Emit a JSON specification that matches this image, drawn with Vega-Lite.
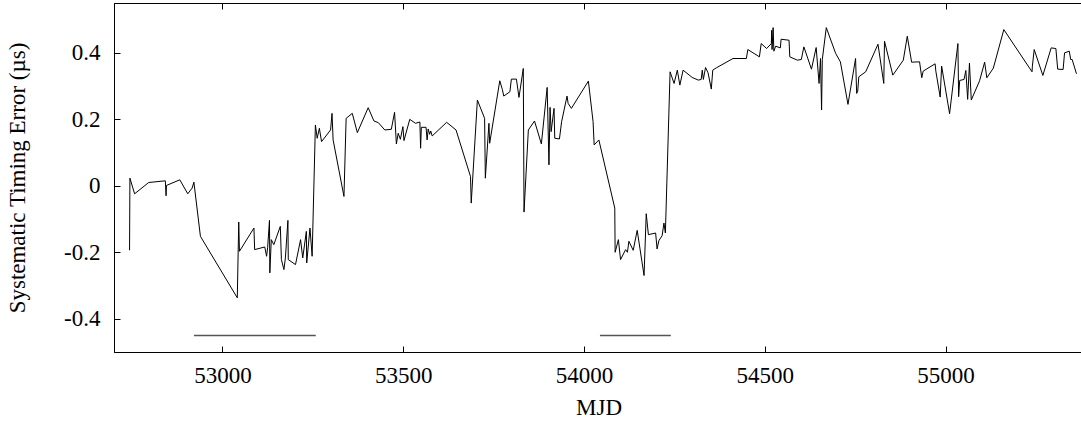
{
  "$schema": "https://vega.github.io/schema/vega-lite/v6.json",
  "autosize": "none",
  "width": 969,
  "height": 349,
  "padding": {"left": 114, "top": 3, "right": 0, "bottom": 71},
  "background": "white",
  "config": {
    "view": {"stroke": "black", "strokeWidth": 1},
    "axis": {
      "labelFont": "Liberation Serif", "labelFontSize": 23, "labelColor": "black",
      "titleFont": "Liberation Serif", "titleFontSize": 23, "titleFontWeight": "normal", "titleColor": "black",
      "tickColor": "black", "tickSize": -6, "tickWidth": 1, "domain": true, "domainColor": "black", "domainWidth": 1, "grid": false
    }
  },
  "resolve": {"axis": {"x": "independent"}},
  "datasets": {
    "timing": [
      {"mjd":52743,"err":-0.194},{"mjd":52744,"err":0.023},{"mjd":52757,"err":-0.024},{"mjd":52796,"err":0.010},
      {"mjd":52842,"err":0.015},{"mjd":52844,"err":-0.030},{"mjd":52845,"err":0.001},{"mjd":52882,"err":0.018},
      {"mjd":52904,"err":-0.024},{"mjd":52916,"err":-0.007},{"mjd":52921,"err":0.011},{"mjd":52939,"err":-0.152},
      {"mjd":53041,"err":-0.337},{"mjd":53045,"err":-0.109},{"mjd":53047,"err":-0.197},{"mjd":53087,"err":-0.127},
      {"mjd":53089,"err":-0.192},{"mjd":53117,"err":-0.184},{"mjd":53122,"err":-0.212},{"mjd":53125,"err":-0.185},
      {"mjd":53130,"err":-0.104},{"mjd":53131,"err":-0.262},{"mjd":53135,"err":-0.162},{"mjd":53142,"err":-0.177},
      {"mjd":53160,"err":-0.122},{"mjd":53163,"err":-0.222},{"mjd":53170,"err":-0.252},{"mjd":53174,"err":-0.217},
      {"mjd":53181,"err":-0.104},{"mjd":53182,"err":-0.222},{"mjd":53202,"err":-0.237},{"mjd":53216,"err":-0.162},
      {"mjd":53222,"err":-0.217},{"mjd":53232,"err":-0.137},{"mjd":53233,"err":-0.232},{"mjd":53242,"err":-0.127},
      {"mjd":53248,"err":-0.212},{"mjd":53257,"err":0.183},{"mjd":53262,"err":0.143},{"mjd":53268,"err":0.173},
      {"mjd":53274,"err":0.133},{"mjd":53299,"err":0.168},{"mjd":53303,"err":0.218},{"mjd":53306,"err":0.138},
      {"mjd":53336,"err":-0.032},{"mjd":53342,"err":0.203},{"mjd":53359,"err":0.218},{"mjd":53373,"err":0.160},
      {"mjd":53403,"err":0.235},{"mjd":53419,"err":0.195},{"mjd":53431,"err":0.190},{"mjd":53449,"err":0.168},
      {"mjd":53467,"err":0.170},{"mjd":53476,"err":0.221},{"mjd":53481,"err":0.126},{"mjd":53486,"err":0.158},
      {"mjd":53492,"err":0.140},{"mjd":53499,"err":0.178},{"mjd":53502,"err":0.136},{"mjd":53518,"err":0.200},
      {"mjd":53534,"err":0.188},{"mjd":53546,"err":0.192},{"mjd":53548,"err":0.113},{"mjd":53550,"err":0.176},
      {"mjd":53563,"err":0.176},{"mjd":53566,"err":0.138},{"mjd":53569,"err":0.171},{"mjd":53573,"err":0.155},
      {"mjd":53576,"err":0.165},{"mjd":53580,"err":0.150},{"mjd":53620,"err":0.191},{"mjd":53646,"err":0.168},
      {"mjd":53686,"err":0.028},{"mjd":53688,"err":-0.052},{"mjd":53705,"err":0.258},{"mjd":53725,"err":0.203},
      {"mjd":53727,"err":0.023},{"mjd":53737,"err":0.188},{"mjd":53739,"err":0.128},{"mjd":53767,"err":0.316},
      {"mjd":53774,"err":0.290},{"mjd":53778,"err":0.270},{"mjd":53795,"err":0.283},{"mjd":53799,"err":0.321},
      {"mjd":53813,"err":0.321},{"mjd":53820,"err":0.266},{"mjd":53832,"err":0.353},{"mjd":53834,"err":-0.079},
      {"mjd":53846,"err":0.168},{"mjd":53863,"err":0.195},{"mjd":53882,"err":0.126},{"mjd":53898,"err":0.296},
      {"mjd":53903,"err":0.063},{"mjd":53906,"err":0.236},{"mjd":53909,"err":0.163},{"mjd":53917,"err":0.233},
      {"mjd":53919,"err":0.143},{"mjd":53932,"err":0.141},{"mjd":53938,"err":0.193},{"mjd":53953,"err":0.270},
      {"mjd":53956,"err":0.248},{"mjd":53965,"err":0.233},{"mjd":54012,"err":0.315},{"mjd":54025,"err":0.193},
      {"mjd":54028,"err":0.123},{"mjd":54041,"err":0.138},{"mjd":54085,"err":-0.067},{"mjd":54086,"err":-0.200},
      {"mjd":54095,"err":-0.162},{"mjd":54101,"err":-0.222},{"mjd":54115,"err":-0.192},{"mjd":54120,"err":-0.200},
      {"mjd":54124,"err":-0.167},{"mjd":54136,"err":-0.194},{"mjd":54147,"err":-0.134},{"mjd":54166,"err":-0.270},
      {"mjd":54172,"err":-0.084},{"mjd":54178,"err":-0.147},{"mjd":54198,"err":-0.142},{"mjd":54202,"err":-0.190},
      {"mjd":54207,"err":-0.165},{"mjd":54216,"err":-0.150},{"mjd":54221,"err":-0.112},{"mjd":54225,"err":-0.142},
      {"mjd":54238,"err":0.343},{"mjd":54249,"err":0.308},{"mjd":54258,"err":0.348},{"mjd":54265,"err":0.303},
      {"mjd":54274,"err":0.348},{"mjd":54299,"err":0.326},{"mjd":54316,"err":0.318},{"mjd":54324,"err":0.320},
      {"mjd":54327,"err":0.348},{"mjd":54330,"err":0.320},{"mjd":54336,"err":0.356},{"mjd":54343,"err":0.340},
      {"mjd":54352,"err":0.291},{"mjd":54356,"err":0.348},{"mjd":54366,"err":0.355},{"mjd":54412,"err":0.383},
      {"mjd":54449,"err":0.383},{"mjd":54453,"err":0.410},{"mjd":54485,"err":0.388},{"mjd":54490,"err":0.428},
      {"mjd":54505,"err":0.413},{"mjd":54518,"err":0.428},{"mjd":54519,"err":0.468},{"mjd":54520,"err":0.410},
      {"mjd":54523,"err":0.476},{"mjd":54525,"err":0.405},{"mjd":54530,"err":0.420},{"mjd":54543,"err":0.415},
      {"mjd":54545,"err":0.441},{"mjd":54567,"err":0.438},{"mjd":54569,"err":0.388},{"mjd":54590,"err":0.378},
      {"mjd":54601,"err":0.380},{"mjd":54608,"err":0.418},{"mjd":54629,"err":0.351},{"mjd":54642,"err":0.416},
      {"mjd":54650,"err":0.308},{"mjd":54654,"err":0.383},{"mjd":54657,"err":0.228},{"mjd":54659,"err":0.380},
      {"mjd":54670,"err":0.476},{"mjd":54696,"err":0.398},{"mjd":54709,"err":0.373},{"mjd":54730,"err":0.245},
      {"mjd":54751,"err":0.383},{"mjd":54754,"err":0.278},{"mjd":54757,"err":0.285},{"mjd":54760,"err":0.328},
      {"mjd":54779,"err":0.343},{"mjd":54813,"err":0.426},{"mjd":54829,"err":0.308},{"mjd":54831,"err":0.435},
      {"mjd":54854,"err":0.333},{"mjd":54883,"err":0.378},{"mjd":54894,"err":0.450},{"mjd":54906,"err":0.372},
      {"mjd":54928,"err":0.373},{"mjd":54934,"err":0.325},{"mjd":54938,"err":0.345},{"mjd":54971,"err":0.367},
      {"mjd":54973,"err":0.345},{"mjd":54985,"err":0.267},{"mjd":54989,"err":0.360},{"mjd":55011,"err":0.217},
      {"mjd":55034,"err":0.428},{"mjd":55036,"err":0.268},{"mjd":55039,"err":0.317},{"mjd":55051,"err":0.320},
      {"mjd":55056,"err":0.347},{"mjd":55061,"err":0.260},{"mjd":55066,"err":0.369},{"mjd":55071,"err":0.258},
      {"mjd":55094,"err":0.316},{"mjd":55108,"err":0.372},{"mjd":55114,"err":0.325},{"mjd":55132,"err":0.354},
      {"mjd":55161,"err":0.470},{"mjd":55239,"err":0.343},{"mjd":55240,"err":0.360},{"mjd":55245,"err":0.410},
      {"mjd":55269,"err":0.332},{"mjd":55292,"err":0.415},{"mjd":55305,"err":0.413},{"mjd":55310,"err":0.351},
      {"mjd":55325,"err":0.350},{"mjd":55329,"err":0.400},{"mjd":55342,"err":0.405},{"mjd":55346,"err":0.380},
      {"mjd":55350,"err":0.380},{"mjd":55362,"err":0.337}
    ],
    "spans": [
      {"start":52921,"end":53258,"level":-0.45},
      {"start":54044,"end":54240,"level":-0.45}
    ]
  },
  "layer": [
    {
      "data": {"name": "timing"},
      "mark": {"type": "line", "color": "black", "strokeWidth": 1, "interpolate": "linear"},
      "encoding": {
        "x": {"field": "mjd", "type": "quantitative",
              "scale": {"domain": [52700, 55380], "nice": false, "zero": false},
              "axis": {"orient": "bottom", "title": "MJD", "values": [53000, 53500, 54000, 54500, 55000],
                       "format": "d", "labelPadding": 18, "titlePadding": 9}},
        "y": {"field": "err", "type": "quantitative",
              "scale": {"domain": [-0.5, 0.55], "nice": false, "zero": false},
              "axis": {"title": "Systematic Timing Error (µs)", "values": [-0.4, -0.2, 0, 0.2, 0.4],
                       "labelExpr": "toString(datum.value)", "labelPadding": 20, "titlePadding": 34}}
      }
    },
    {
      "data": {"name": "spans"},
      "mark": {"type": "rule", "color": "#555555", "strokeWidth": 1.5},
      "encoding": {
        "x": {"field": "start", "type": "quantitative",
              "axis": {"orient": "top", "labels": false, "title": null, "values": [53000, 53500, 54000, 54500, 55000]}},
        "x2": {"field": "end"},
        "y": {"field": "level", "type": "quantitative"}
      }
    }
  ]
}
